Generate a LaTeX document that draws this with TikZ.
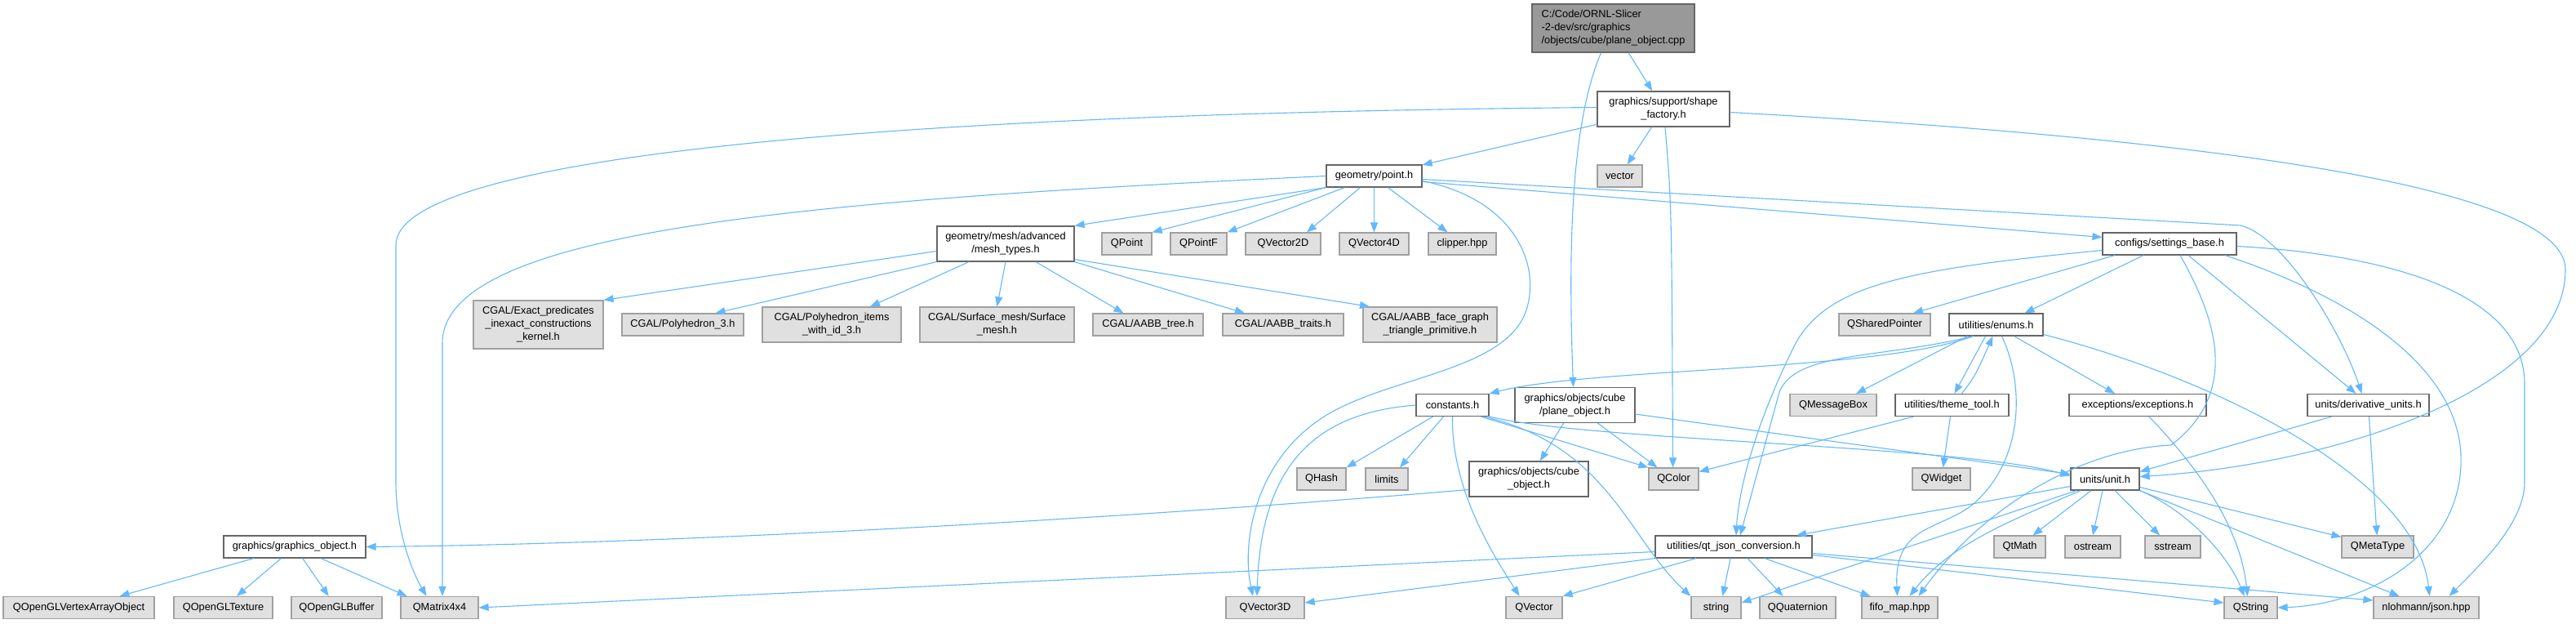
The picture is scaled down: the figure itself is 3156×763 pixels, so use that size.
\documentclass[tikz,border=0pt]{standalone}
\usepackage{fontspec}
\setmainfont{Liberation Sans}
\usetikzlibrary{arrows.meta}
\definecolor{edgeblue}{HTML}{63B8FF}
\definecolor{boxgray}{HTML}{E0E0E0}
\definecolor{boxline}{HTML}{A0A0A0}
\definecolor{nodeline}{HTML}{666666}
\definecolor{rootfill}{HTML}{999999}
\newcommand\dg{\fontsize{12.8}{16}\selectfont}
\begin{document}
\begin{tikzpicture}[x=1pt, y=-1pt,
  hdr/.style={draw=nodeline, fill=white, line width=1.2pt, inner sep=0pt, minimum height=27pt, align=center, font=\dg},
  sys/.style={hdr, draw=boxline, fill=boxgray},
  rootbox/.style={hdr, fill=rootfill, align=left},
  inc/.style={draw=edgeblue, line width=1.1pt, -{Triangle[length=12pt,width=9pt]}}]
  \useasboundingbox (0,0) rectangle (3156,763);
  % headers and system includes
  \node[rootbox, minimum width=199pt, minimum height=59pt] (root) at (1976.5,34.5) {C:/Code/ORNL-Slicer\\-2-dev/src/graphics\\/objects/cube/plane\_object.cpp};
  \node[hdr, minimum width=162pt, minimum height=43pt] (shape) at (2038,133.5) {graphics/support/shape\\\_factory.h};
  \node[sys, minimum width=55pt] (vector) at (1984.5,215.5) {vector};
  \node[hdr, minimum width=117pt] (point) at (1683.5,215.5) {geometry/point.h};
  \node[hdr, minimum width=168pt, minimum height=43pt] (mesh) at (1232,298.5) {geometry/mesh/advanced\\/mesh\_types.h};
  \node[sys, minimum width=61pt] (qpoint) at (1380.5,298.5) {QPoint};
  \node[sys, minimum width=69pt] (qpointf) at (1468.5,298.5) {QPointF};
  \node[sys, minimum width=92pt] (qvectorxy) at (1572,298.5) {QVector2D};
  \node[sys, minimum width=85pt] (qvectorxyzw) at (1683.5,298.5) {QVector4D};
  \node[sys, minimum width=83pt] (clipper) at (1791.5,298.5) {clipper.hpp};
  \node[hdr, minimum width=164pt] (settings) at (2658,298.5) {configs/settings\_base.h};
  \node[sys, minimum width=159pt, minimum height=59pt] (cgalexact) at (659.5,397.5) {CGAL/Exact\_predicates\\\_inexact\_constructions\\\_kernel.h};
  \node[sys, minimum width=149pt] (cgalpoly) at (836.5,397.5) {CGAL/Polyhedron\_3.h};
  \node[sys, minimum width=170pt, minimum height=43pt] (cgalpolyid) at (1019,397.5) {CGAL/Polyhedron\_items\\\_with\_id\_3.h};
  \node[sys, minimum width=189pt, minimum height=43pt] (cgalsurf) at (1221.5,397.5) {CGAL/Surface\_mesh/Surface\\\_mesh.h};
  \node[sys, minimum width=135pt] (aabbtree) at (1406.5,397.5) {CGAL/AABB\_tree.h};
  \node[sys, minimum width=148pt] (aabbtraits) at (1572,397.5) {CGAL/AABB\_traits.h};
  \node[sys, minimum width=164pt, minimum height=43pt] (aabbface) at (1752,397.5) {CGAL/AABB\_face\_graph\\\_triangle\_primitive.h};
  \node[sys, minimum width=112pt] (qshared) at (2309,397.5) {QSharedPointer};
  \node[hdr, minimum width=115pt] (enums) at (2445.5,397.5) {utilities/enums.h};
  \node[hdr, minimum width=89pt] (constants) at (1779.5,496) {constants.h};
  \node[hdr, minimum width=147pt, minimum height=43pt] (planeh) at (1929.5,496) {graphics/objects/cube\\/plane\_object.h};
  \node[sys, minimum width=106pt] (qmsgbox) at (2246,496) {QMessageBox};
  \node[hdr, minimum width=139pt] (theme) at (2391.5,496) {utilities/theme\_tool.h};
  \node[hdr, minimum width=168pt] (exceptions) at (2619,496) {exceptions/exceptions.h};
  \node[hdr, minimum width=149pt] (derivative) at (2901.5,496) {units/derivative\_units.h};
  \node[sys, minimum width=60pt] (qhash) at (1619,586.5) {QHash};
  \node[sys, minimum width=52pt] (limits) at (1699,586.5) {limits};
  \node[hdr, minimum width=146pt, minimum height=43pt] (cubeobj) at (1873,586.5) {graphics/objects/cube\\\_object.h};
  \node[sys, minimum width=61pt] (qcolor) at (2050.5,586.5) {QColor};
  \node[sys, minimum width=71pt] (qwidget) at (2378.5,586.5) {QWidget};
  \node[hdr, minimum width=84pt] (unit) at (2579,586.5) {units/unit.h};
  \node[hdr, minimum width=174pt] (gobj) at (361,669.5) {graphics/graphics\_object.h};
  \node[hdr, minimum width=192pt] (qtjson) at (2124,669.5) {utilities/qt\_json\_conversion.h};
  \node[sys, minimum width=63pt] (qtmath) at (2474.5,669.5) {QtMath};
  \node[sys, minimum width=68pt] (ostream) at (2564,669.5) {ostream};
  \node[sys, minimum width=68pt] (sstream) at (2662,669.5) {sstream};
  \node[sys, minimum width=88pt] (qmetatype) at (2913,669.5) {QMetaType};
  \node[sys, minimum width=185pt] (vao) at (96.5,744) {QOpenGLVertexArrayObject};
  \node[sys, minimum width=121pt] (qtexture) at (273.5,744) {QOpenGLTexture};
  \node[sys, minimum width=111pt] (qbuffer) at (412.5,744) {QOpenGLBuffer};
  \node[sys, minimum width=95pt] (qmatrix) at (538.5,744) {QMatrix4x4};
  \node[sys, minimum width=96pt] (qvectorxyz) at (1550,744) {QVector3D};
  \node[sys, minimum width=69pt] (qvector) at (1879.5,744) {QVector};
  \node[sys, minimum width=61pt] (string) at (2102.5,744) {string};
  \node[sys, minimum width=93pt] (qquat) at (2202.5,744) {QQuaternion};
  \node[sys, minimum width=93pt] (fifo) at (2327.5,744) {fifo\_map.hpp};
  \node[sys, minimum width=65pt] (qstring) at (2757.5,744) {QString};
  \node[sys, minimum width=129pt] (nlohmann) at (2972.5,744) {nlohmann/json.hpp};
  % plane_object.cpp
  \draw[inc] (root) -- (shape);
  \draw[inc] ([xshift=-15pt]root.south) .. controls (1925,150) and (1921,300) .. ([xshift=-2pt]planeh.north);
  % shape_factory.h
  \draw[inc] (shape) -- (point);
  \draw[inc] (shape) -- (vector);
  \draw[inc] ([xshift=2pt]shape.south) .. controls (2048,250) .. ([xshift=-1pt]qcolor.north);
  \draw[inc] ([yshift=2pt]shape.west) .. controls (1000,140) and (485,200) .. (485,300) -- (485,590) .. controls (485,650) and (505,700) .. ([xshift=-16pt]qmatrix.north);
  \draw[inc] ([yshift=-4pt]shape.east) .. controls (2800,175) and (3143,240) .. (3143,330) .. controls (3143,480) and (2850,570) .. ([yshift=3pt]unit.east);
  % point.h
  \draw[inc] (point.west) .. controls (1000,245) and (542,280) .. (542,420) -- ([xshift=3.5pt]qmatrix.north);
  \draw[inc] (point.south west) -- (mesh.north east);
  \draw[inc] (point.south west) -- (qpoint.north east);
  \draw[inc] ([xshift=23pt]point.south west) -- (qpointf.north east);
  \draw[inc] ([xshift=-17pt]point.south) -- ([xshift=29pt]qvectorxy.north);
  \draw[inc] (point) -- (qvectorxyzw);
  \draw[inc] ([xshift=17pt]point.south) -- ([xshift=-18pt]clipper.north);
  \draw[inc] ([yshift=-7pt]point.east) -- ([yshift=8pt]settings.west);
  \draw[inc] ([yshift=-4pt]point.east) -- (2745,276) .. controls (2800,290) and (2870,410) .. ([xshift=-8pt]derivative.north);
  \draw[inc] ([yshift=-6pt]point.east) .. controls (1860,245) and (1890,330) .. (1868,385) .. controls (1840,450) and (1720,460) .. (1640,500) .. controls (1540,550) and (1520,660) .. ([xshift=-15pt]qvectorxyz.north);
  % mesh_types.h
  \draw[inc] ([yshift=-9pt]mesh.west) -- (cgalexact.north east);
  \draw[inc] (mesh.south west) -- ([xshift=40pt]cgalpoly.north);
  \draw[inc] ([xshift=-45pt]mesh.south) -- ([xshift=47pt]cgalpolyid.north);
  \draw[inc] (mesh.south) -- (cgalsurf.north);
  \draw[inc] ([xshift=37pt]mesh.south) -- ([xshift=-30pt]aabbtree.north);
  \draw[inc] (mesh.south east) -- ([xshift=-47pt]aabbtraits.north);
  \draw[inc] ([yshift=3pt]mesh.south east) -- ([xshift=-74pt]aabbface.north);
  % settings_base.h
  \draw[inc] ([yshift=-8pt]settings.west) .. controls (2330,330) and (2240,350) .. (2200,420) .. controls (2150,520) and (2130,600) .. ([xshift=3pt]qtjson.north);
  \draw[inc] ([xshift=-67pt]settings.south) -- ([xshift=35pt]qshared.north);
  \draw[inc] ([xshift=-32pt]settings.south) -- ([xshift=35pt]enums.north);
  \draw[inc] ([xshift=13pt]settings.south) .. controls (2715,390) and (2745,480) .. (2660,545) .. controls (2550,550) and (2430,620) .. ([xshift=23pt]fifo.north);
  \draw[inc] ([xshift=23pt]settings.south) -- ([xshift=-15pt]derivative.north);
  \draw[inc] ([xshift=68pt]settings.south) .. controls (2900,370) and (3020,460) .. (3015,570) .. controls (3010,680) and (2900,740) .. (qstring.east);
  \draw[inc] ([yshift=-3pt]settings.east) .. controls (2900,310) and (3093,350) .. (3093,470) -- (3093,590) .. controls (3093,640) and (3040,690) .. ([xshift=28pt]nlohmann.north);
  % enums.h
  \draw[inc] ([xshift=-28pt]enums.south) .. controls (2300,455) and (1950,450) .. (constants.north east);
  \draw[inc] ([xshift=-28pt]enums.south) .. controls (2300,440) and (2200,430) .. (2180,480) -- ([xshift=8pt]qtjson.north);
  \draw[inc] ([xshift=-35pt]enums.south) -- ([xshift=28pt]qmsgbox.north);
  \draw[inc] ([xshift=-13pt]enums.south) -- ([xshift=3pt]theme.north);
  \draw[inc] ([xshift=7pt]enums.south) .. controls (2480,470) and (2480,560) .. (2420,615) .. controls (2380,650) and (2320,640) .. ([xshift=-3pt]fifo.north);
  \draw[inc] ([xshift=22pt]enums.south) -- ([xshift=-28pt]exceptions.north);
  \draw[inc] ([yshift=-12pt]enums.east) .. controls (2700,460) and (2960,580) .. ([xshift=4pt]nlohmann.north);
  % theme_tool.h, exceptions.h, derivative_units.h
  \draw[inc] ([xshift=12pt]theme.north) .. controls (2420,460) .. ([xshift=-4pt]enums.south);
  \draw[inc] (theme) -- (qwidget);
  \draw[inc] ([xshift=-47pt]theme.south) -- ([yshift=9pt]qcolor.east);
  \draw[inc] ([xshift=14pt]exceptions.south) .. controls (2700,580) and (2745,650) .. ([xshift=-4pt]qstring.north);
  \draw[inc] ([xshift=-45pt]derivative.south) -- ([yshift=9pt]unit.east);
  \draw[inc] (derivative) -- (qmetatype);
  % plane_object.h, constants.h, cube_object.h
  \draw[inc] (planeh) -- (cubeobj);
  \draw[inc] ([xshift=28pt]planeh.south) -- ([xshift=-20pt]qcolor.north);
  \draw[inc] ([yshift=-11pt]planeh.east) -- ([yshift=6pt]unit.west);
  \draw[inc] (constants.south east) .. controls (1950,540) and (2400,545) .. ([yshift=4pt]unit.west);
  \draw[inc] ([xshift=-24pt]constants.south) -- (qhash.north east);
  \draw[inc] ([xshift=-11pt]constants.south) -- ([xshift=16pt]limits.north);
  \draw[inc] (constants.south) .. controls (1778,600) and (1830,680) .. ([xshift=-18pt]qvector.north);
  \draw[inc] ([xshift=35pt]constants.south) -- (qcolor.north west);
  \draw[inc] ([xshift=38pt]constants.south) .. controls (1970,545) and (1995,660) .. (string.north west);
  \draw[inc] (constants.west) .. controls (1620,505) and (1545,560) .. ([xshift=-10pt]qvectorxyz.north);
  \draw[inc] ([yshift=-13pt]cubeobj.west) .. controls (1500,625) and (900,665) .. (gobj.east);
  % graphics_object.h
  \draw[inc] (gobj) -- (vao);
  \draw[inc] (gobj) -- (qtexture);
  \draw[inc] (gobj) -- (qbuffer);
  \draw[inc] (gobj) -- ([xshift=-40pt]qmatrix.north);
  % qt_json_conversion.h
  \draw[inc] ([yshift=-6pt]qtjson.west) -- (qmatrix.east);
  \draw[inc] (qtjson.south west) -- ([yshift=6pt]qvectorxyz.east);
  \draw[inc] ([xshift=-46pt]qtjson.south) -- (qvector.north east);
  \draw[inc] ([xshift=-4pt]qtjson.south) -- ([xshift=8pt]string.north);
  \draw[inc] ([xshift=17pt]qtjson.south) -- ([xshift=-18pt]qquat.north);
  \draw[inc] ([xshift=38pt]qtjson.south) -- ([xshift=-36pt]fifo.north);
  \draw[inc] ([yshift=-10pt]qtjson.east) -- ([yshift=6pt]qstring.west);
  \draw[inc] ([yshift=-8pt]qtjson.east) -- ([yshift=9pt]nlohmann.west);
  % unit.h
  \draw[inc] ([yshift=-9pt]unit.west) -- ([xshift=77pt]qtjson.north);
  \draw[inc] ([xshift=-35pt]unit.south) -- ([yshift=6pt]string.east);
  \draw[inc] ([xshift=-30pt]unit.south) .. controls (2470,635) and (2390,665) .. ([xshift=12pt]fifo.north);
  \draw[inc] ([xshift=-17pt]unit.south) -- ([xshift=16pt]qtmath.north);
  \draw[inc] ([xshift=-3pt]unit.south) -- (ostream.north);
  \draw[inc] ([xshift=12pt]unit.south) -- ([xshift=-16pt]sstream.north);
  \draw[inc] ([yshift=-10pt]unit.east) -- ([yshift=12pt]qmetatype.west);
  \draw[inc] (unit.south east) -- ([xshift=-33pt]nlohmann.north);
  \draw[inc] (unit.south east) .. controls (2680,625) and (2730,680) .. ([xshift=-8pt]qstring.north);
\end{tikzpicture}
\end{document}
